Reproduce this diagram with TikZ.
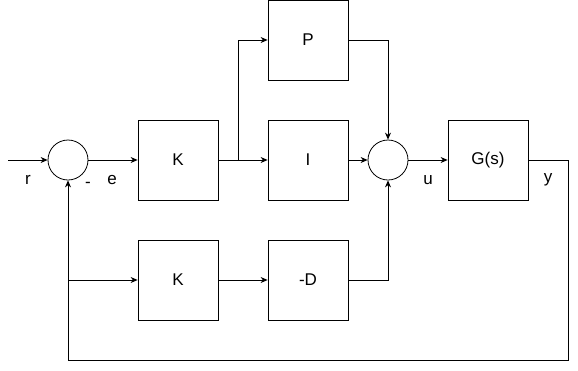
\documentclass[tikz,border=0pt]{standalone}
\usepackage{fontspec}
\setmainfont{Liberation Sans}
\usetikzlibrary{arrows.meta}
\begin{document}
\begin{tikzpicture}[x=1pt,y=-1pt,
  blk/.style={draw, minimum width=80pt, minimum height=80pt, inner sep=0pt, font=\fontsize{17}{19}\selectfont, line width=0.8pt},
  sum/.style={draw, circle, minimum size=40pt, inner sep=0pt, line width=0.8pt},
  lbl/.style={font=\fontsize{17}{19}\selectfont, inner sep=0pt},
  conn/.style={line width=0.8pt, -{Stealth[length=7pt,width=6pt]}},
  wire/.style={line width=0.8pt}]
\useasboundingbox (0,0) rectangle (578,370);
\node[sum] (s1) at (68,160) {};
\node[blk] (k1) at (178,160) {K};
\node[blk] (p) at (308,40) {P};
\node[blk] (i) at (308,160) {I};
\node[sum] (s2) at (388,160) {};
\node[blk] (g) at (488,160) {G(s)};
\node[blk] (k2) at (178,280) {K};
\node[blk] (d) at (308,280) {-D};
\coordinate (in) at (8,160);
\coordinate (br1) at (238,160);
\coordinate (fbR) at (568,160);
\coordinate (fbRB) at (568,360);
\coordinate (fbLB) at (68,360);
\coordinate (br2) at (68,280);
\node[lbl] (r) at (28,180) {r};
\node[lbl] (minus) at (88,185) {-};
\node[lbl] (e) at (112,180) {e};
\node[lbl] (u) at (428,180) {u};
\node[lbl] (y) at (548,180) {y};
\draw[conn] (in) -- (s1);
\draw[conn] (s1) -- (k1);
\draw[conn] (k1) -- (i);
\draw[conn] (br1) |- (p);
\draw[conn] (i) -- (s2);
\draw[conn] (p) -| (s2);
\draw[conn] (d) -| (s2);
\draw[conn] (s2) -- (g);
\draw[conn] (k2) -- (d);
\draw[wire] (g) -- (fbR) -- (fbRB) -- (fbLB) -- (br2);
\draw[conn] (br2) -- (s1);
\draw[conn] (br2) -- (k2);
\end{tikzpicture}
\end{document}
